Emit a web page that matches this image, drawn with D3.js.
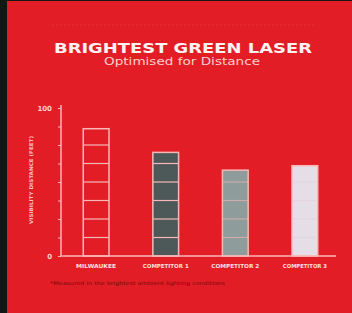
<!DOCTYPE html>
<html>
<head>
<meta charset="utf-8">
<script src="https://cdn.jsdelivr.net/npm/d3@7"></script>
<style>
  html, body { margin: 0; padding: 0; background: #161616; }
  svg { display: block; }
</style>
</head>
<body>
<div id="chart"></div>
<script>
// chart data
var categories = ['MILWAUKEE', 'COMPETITOR 1', 'COMPETITOR 2', 'COMPETITOR 3'];
var values = [86, 70, 58, 61];
var tickValues = [0, 12.5, 25, 37.5, 50, 62.5, 75, 87.5, 100];
var tickLabels = ['0', '100'];

var barFills = ['none', '#4d5858', '#8e9c9c', '#e6dee6'];

var width = 352, height = 313;

var svg = d3.select('#chart').append('svg')
    .attr('width', width)
    .attr('height', height);

// red panel, dark strips on left and top
svg.append('rect')
    .attr('x', 7).attr('y', 1)
    .attr('width', width - 7).attr('height', height - 1)
    .attr('fill', '#e31d25');

// faint rule above title
svg.append('line')
    .attr('x1', 52).attr('x2', 316)
    .attr('y1', 25).attr('y2', 25)
    .attr('stroke', '#f6a0a0')
    .attr('stroke-opacity', 0.15)
    .attr('stroke-dasharray', '2,2');

// titles
svg.append('text')
    .attr('x', 183).attr('y', 53)
    .attr('text-anchor', 'middle')
    .attr('font-family', 'DejaVu Sans')
    .attr('font-weight', 'bold')
    .attr('font-size', 14)
    .attr('textLength', 258)
    .attr('lengthAdjust', 'spacingAndGlyphs')
    .attr('fill', '#fff2f2')
    .text('BRIGHTEST GREEN LASER');

svg.append('text')
    .attr('x', 182).attr('y', 65)
    .attr('text-anchor', 'middle')
    .attr('font-family', 'DejaVu Sans')
    .attr('font-size', 10)
    .attr('textLength', 156)
    .attr('lengthAdjust', 'spacingAndGlyphs')
    .attr('fill', '#fbd0d0')
    .text('Optimised for Distance');

//scales
var x = d3.scaleBand()
    .domain(categories)
    .range([61, 340])
    .paddingInner(0.63)
    .paddingOuter(0.32);

var y = d3.scaleLinear()
    .domain([0, 100])
    .range([256, 108]);

var lineColor = '#f7b8b8';

// bars
var bars = svg.append('g').attr('class', 'bars');

bars.selectAll('rect')
    .data(values)
    .enter()
        .append('rect')
        .attr('x', function(d, i){ return x(categories[i]); })
        .attr('y', function(d){ return y(d); })
        .attr('width', x.bandwidth())
        .attr('height', function(d){ return y(0) - y(d); })
        .attr('fill', function(d, i){ return barFills[i]; })
        .attr('stroke', lineColor)
        .attr('stroke-width', 1.5);

// ladder lines inside each bar at the tick positions
values.forEach(function(v, i){
    tickValues.filter(function(t){ return t > 0 && t < v - 3; }).forEach(function(t){
        bars.append('line')
            .attr('x1', x(categories[i]))
            .attr('x2', x(categories[i]) + x.bandwidth())
            .attr('y1', y(t)).attr('y2', y(t))
            .attr('stroke', i == 3 ? '#ddd0da' : lineColor)
            .attr('stroke-opacity', i >= 2 ? 0.6 : 1)
            .attr('stroke-width', 1.2);
    });
});

// y axis
var yAxis = d3.axisLeft(y)
    .tickValues(tickValues)
    .tickSize(3)
    .tickSizeOuter(0)
    .tickPadding(6)
    .tickFormat(function(d){
        return tickLabels.indexOf(String(d)) >= 0 ? d : '';
    });

var gy = svg.append('g')
    .attr('transform', 'translate(61,0)')
    .call(yAxis);

gy.select('.domain').attr('stroke', lineColor).attr('stroke-width', 1.5)
    .attr('d', 'M0,105V256');
gy.selectAll('.tick line').attr('stroke', lineColor);
gy.selectAll('.tick text')
    .attr('fill', '#fbd0d0')
    .attr('font-family', 'DejaVu Sans')
    .attr('font-weight', 'bold')
    .attr('font-size', 7);

// baseline
svg.append('line')
    .attr('x1', 61).attr('x2', 336)
    .attr('y1', y(0)).attr('y2', y(0))
    .attr('stroke', lineColor)
    .attr('stroke-width', 1.5);

// y axis title
svg.append('text')
    .attr('transform', 'translate(33,180) rotate(-90)')
    .attr('text-anchor', 'middle')
    .attr('font-family', 'DejaVu Sans')
    .attr('font-weight', 'bold')
    .attr('font-size', 5)
    .attr('textLength', 88)
    .attr('lengthAdjust', 'spacingAndGlyphs')
    .attr('fill', '#fbc4c4')
    .text('VISIBILITY DISTANCE (FEET)');

// category labels
svg.append('g').selectAll('text')
    .data(categories)
    .enter()
        .append('text')
        .attr('x', function(d){ return x(d) + x.bandwidth() / 2; })
        .attr('y', 268)
        .attr('text-anchor', 'middle')
        .attr('font-family', 'DejaVu Sans')
        .attr('font-weight', 'bold')
        .attr('font-size', 5.5)
        .attr('textLength', function(d, i){ return [40, 46, 48, 44][i]; })
        .attr('lengthAdjust', 'spacingAndGlyphs')
        .attr('fill', '#fde0e0')
        .text(function(d){ return d; });

// footnote
svg.append('text')
    .attr('x', 50).attr('y', 285)
    .attr('font-family', 'DejaVu Sans')
    .attr('font-size', 5)
    .attr('textLength', 175)
    .attr('lengthAdjust', 'spacingAndGlyphs')
    .attr('fill', '#6e0a0c')
    .text('*Measured in the brightest ambient lighting conditions');
</script>
</body>
</html>
